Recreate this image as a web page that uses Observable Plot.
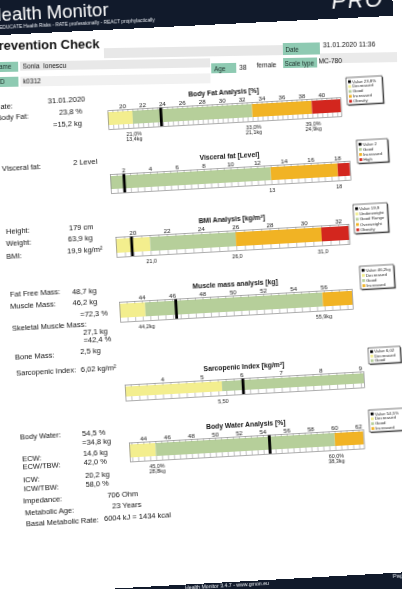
<!DOCTYPE html>
<html><head><meta charset="utf-8">
<script src="https://cdn.jsdelivr.net/npm/d3@7"></script>
<script src="https://cdn.jsdelivr.net/npm/@observablehq/plot@0.6"></script>
<style>
html,body{margin:0;padding:0;background:#fff;width:402px;height:589px;overflow:hidden;font-family:"Liberation Sans",Arial,sans-serif;}
.grp{position:absolute;left:0;top:0;width:0;height:0;transform-origin:0 0;will-change:transform;}
.abs{position:absolute;white-space:pre;line-height:1;}
</style></head><body>
<div id="band" class="grp" style="transform:rotate(-2.8deg)"></div>
<div id="info" class="grp" style="transform:rotate(-1deg)"></div>
<div id="main" class="grp" style="transform:rotate(-3.2deg)"></div>
<script>
// ---------- data ----------
const reportTitle = "Health Monitor";
const reportSubtitle = "EDUCATE Health Risks - RATE professionally - REACT prophylactically";
const logoText = "PRO";
const checkTitle = "Prevention Check";
const headerLabels = ["Date", "Name", "Age", "Scale type", "ID"];
const headerValues = ["31.01.2020 11:36", "Sonia  Ionescu", "38", "MC-780", "k0312"];
const genderText = "female";
const footerText = "Health Monitor 3.4.7 - www.gmon.eu";
const pageText = "Page 1/1";

const leftLabels = ["Date:", "Body Fat:", "Visceral fat:", "Height:", "Weight:", "BMI:",
  "Fat Free Mass:", "Muscle Mass:", "Skeletal Muscle Mass:", "Bone Mass:", "Sarcopenic Index:",
  "Body Water:", "ECW:", "ECW/TBW:", "ICW:", "ICW/TBW:", "Impedance:", "Metabolic Age:", "Basal Metabolic Rate:"];
const leftValues = ["31.01.2020", "23,8 %", "=15,2 kg", "2 Level", "179 cm", "63,9 kg", "19,9 kg/m²",
  "48,7 kg", "46,2 kg", "=72,3 %", "27,1 kg", "=42,4 %", "2,5 kg", "6,02 kg/m²",
  "54,5 %", "=34,8 kg", "14,6 kg", "42,0 %", "20,2 kg", "58,0 %", "706 Ohm", "23 Years", "6004 kJ = 1434 kcal"];

const chartTitles = ["Body Fat Analysis [%]", "Visceral fat [Level]", "BMI Analysis [kg/m²]",
  "Muscle mass analysis [kg]", "Sarcopenic Index [kg/m²]", "Body Water Analysis [%]"];

const bodyFatTicks = [20, 22, 24, 26, 28, 30, 32, 34, 36, 38, 40];
const bodyFatBounds = [18.5, 21, 33, 39, 41.9];
const bodyFatCats = ["Decreased", "Good", "Increased", "Obesity"];
const bodyFatValue = 23.8;
const bodyFatMarks = [21, 33, 39];
const bodyFatMarkLabels = ["21,0%\n13,4kg", "33,0%\n21,1kg", "39,0%\n24,9kg"];
const bodyFatLegend = "Value 23,8%";

const visceralTicks = [2, 4, 6, 8, 10, 12, 14, 16, 18];
const visceralBounds = [1, 13, 18, 18.9];
const visceralCats = ["Good", "Increased", "High"];
const visceralValue = 2;
const visceralMarks = [13, 18];
const visceralMarkLabels = ["13", "18"];
const visceralLegend = "Value 2";

const bmiTicks = [20, 22, 24, 26, 28, 30, 32];
const bmiBounds = [19, 21, 26, 31, 32.6];
const bmiCats = ["Underweight", "Good Range", "Overweight", "Obesity"];
const bmiValue = 19.9;
const bmiMarks = [21, 26, 31];
const bmiMarkLabels = ["21,0", "26,0", "31,0"];
const bmiLegend = "Value 19,9";

const muscleTicks = [44, 46, 48, 50, 52, 54, 56];
const muscleBounds = [42.5, 44.2, 55.9, 57.85];
const muscleCats = ["Decreased", "Good", "Increased"];
const muscleValue = 46.2;
const muscleMarks = [44.2, 55.9];
const muscleMarkLabels = ["44,2kg", "55,9kg"];
const muscleLegend = "Value 46,2kg";

const sarcoTicks = [4, 5, 6, 7, 8, 9];
const sarcoBounds = [3.05, 5.5, 9.08];
const sarcoCats = ["Decreased", "Good"];
const sarcoValue = 6.02;
const sarcoMarks = [5.5];
const sarcoMarkLabels = ["5,50"];
const sarcoLegend = "Value 6,02";

const waterTicks = [44, 46, 48, 50, 52, 54, 56, 58, 60, 62];
const waterBounds = [42.8, 45, 60, 62.4];
const waterCats = ["Decreased", "Good", "Increased"];
const waterValue = 54.5;
const waterMarks = [45, 60];
const waterMarkLabels = ["45,0%\n28,8kg", "60,0%\n38,3kg"];
const waterLegend = "Value 54,5%";

// ---------- styles / layout ----------
const FONT = "Liberation Sans, Arial, sans-serif";
const YEL = "#f3ee8e", GRN = "#b6cf9a", ORA = "#f1b324", RED = "#d3261e";
const catColor = {Decreased: YEL, Underweight: YEL, Good: GRN, "Good Range": GRN,
  Increased: ORA, Overweight: ORA, Obesity: RED, High: RED};
const TEAL = "#8ecab2", NAVY = "#111a2b";

const bandG = document.getElementById("band");
const infoG = document.getElementById("info");
const mainG = document.getElementById("main");

function box(g, x, y, w, h, bg) {
  const d = document.createElement("div");
  d.className = "abs";
  Object.assign(d.style, {left: x + "px", top: y + "px", width: w + "px", height: h + "px", background: bg});
  g.appendChild(d);
  return d;
}
// y = baseline
function put(g, text, x, y, fs, opt = {}) {
  const s = document.createElement("span");
  s.className = "abs";
  s.textContent = text;
  Object.assign(s.style, {left: x + "px", top: (y - 0.8465 * fs) + "px", fontSize: fs + "px", color: "#111"}, opt);
  g.appendChild(s);
  return s;
}

// ---------- header band ----------
box(bandG, -20, -40, 412, 75, NAVY);
put(bandG, reportTitle, -12.5, 22, 18.5, {color: "#fff"});
put(bandG, reportSubtitle, -2, 30.5, 4.9, {color: "#e8ecf2"});
put(bandG, logoText, 331, 26, 22, {color: "#fff", fontStyle: "italic", fontWeight: "300", letterSpacing: "1.5px"});

// ---------- info rows ----------
put(infoG, checkTitle, -11, 49.8, 13, {fontWeight: "bold"});
box(infoG, 103, 49.5, 179, 10.5, "#e8e8e8");
box(infoG, 282, 48, 37, 11.5, TEAL);
put(infoG, headerLabels[0], 284.5, 57, 6.3, {color: "#1d2f2a"});
put(infoG, headerValues[0], 322, 54.2, 6.8);
box(infoG, 319, 59, 77, 9.5, "#eaeaea");
box(infoG, -9, 61.5, 26, 10, TEAL);
put(infoG, headerLabels[1], -6.5, 69.2, 6.3, {color: "#1d2f2a"});
box(infoG, 19, 61.5, 190, 9.5, "#e8e8e8");
put(infoG, headerValues[1], 21.5, 69.8, 6.6);
box(infoG, 210, 67, 25, 10, TEAL);
put(infoG, headerLabels[2], 213, 75, 6.3, {color: "#1d2f2a"});
put(infoG, headerValues[2], 238, 74.2, 6.6);
put(infoG, genderText, 255.5, 72.9, 6.6);
box(infoG, 282, 63.2, 34, 10, TEAL);
put(infoG, headerLabels[3], 283.5, 71.2, 6.3, {color: "#1d2f2a"});
put(infoG, headerValues[3], 317.5, 69.5, 6.6);
box(infoG, -9, 76.8, 26, 10, TEAL);
put(infoG, headerLabels[4], -3, 84.6, 6.3, {color: "#1d2f2a"});
box(infoG, 19, 77, 190, 9.5, "#f1f1f1");
put(infoG, headerValues[4], 21.5, 84.4, 6.6);

// ---------- left column (centre y) ----------
const LFS = 7.5;
const labelPos = [[-11,106.5],[-10,117.8],[-7.4,168.8],[-7,232],[-7.5,243.3],[-8,256.6],[-6.5,295],[-7,306.7],
  [-6.3,328.5],[-5,357.6],[-4.8,373.6],[-4.4,437.7],[-3.6,459.8],[-3.6,467.8],[-3.8,480.5],[-3.8,489.5],
  [-5,501.3],[-3.7,514],[-3.3,524.6]];
const valuePos = [[42,103.5],[52.7,116],[46,127.8],[63.9,166.8],[56,232],[54.6,242.8],[53,255],[55.7,295.2],
  [55.5,306.2],[62.5,318.3],[64.4,336.8],[64.4,344.8],[60.4,355.6],[60,373.6],[57.8,437.2],[57.3,446.2],
  [57.7,458],[57.7,466.6],[58.4,480],[58.4,489],[79.4,500.2],[83.8,511.4],[75,523.3]];
leftLabels.forEach((t, i) => put(mainG, t, labelPos[i][0], labelPos[i][1] + 0.358 * LFS, LFS));
leftValues.forEach((t, i) => put(mainG, t, valuePos[i][0], valuePos[i][1] + 0.358 * LFS, LFS));

// ---------- charts ----------
const charts = [
  {title: chartTitles[0], ticks: bodyFatTicks, bounds: bodyFatBounds, cats: bodyFatCats, value: bodyFatValue, marks: bodyFatMarks, markLabels: bodyFatMarkLabels, legend: bodyFatLegend},
  {title: chartTitles[1], ticks: visceralTicks, bounds: visceralBounds, cats: visceralCats, value: visceralValue, marks: visceralMarks, markLabels: visceralMarkLabels, legend: visceralLegend},
  {title: chartTitles[2], ticks: bmiTicks, bounds: bmiBounds, cats: bmiCats, value: bmiValue, marks: bmiMarks, markLabels: bmiMarkLabels, legend: bmiLegend},
  {title: chartTitles[3], ticks: muscleTicks, bounds: muscleBounds, cats: muscleCats, value: muscleValue, marks: muscleMarks, markLabels: muscleMarkLabels, legend: muscleLegend},
  {title: chartTitles[4], ticks: sarcoTicks, bounds: sarcoBounds, cats: sarcoCats, value: sarcoValue, marks: sarcoMarks, markLabels: sarcoMarkLabels, legend: sarcoLegend},
  {title: chartTitles[5], ticks: waterTicks, bounds: waterBounds, cats: waterCats, value: waterValue, marks: waterMarks, markLabels: waterMarkLabels, legend: waterLegend}
];
const layouts = [
  {left: 100.7, right: 334, top: 116, fh: 19, minor: 0.5, lg: [341, 97, 36, 27]},
  {left: 100.2, right: 340, top: 179.5, fh: 19, minor: 0.5, lg: [347.6, 159.7, 31, 23]},
  {left: 101.6, right: 335, top: 243, fh: 20, minor: 0.5, lg: [341, 224.4, 34, 29]},
  {left: 102, right: 335, top: 307.6, fh: 20, minor: 0.5, lg: [343.6, 285.6, 34, 23]},
  {left: 103, right: 342, top: 390.5, fh: 16, minor: 0.2, lg: [348, 368, 32, 16]},
  {left: 104, right: 338.5, top: 449, fh: 19, minor: 0.5, lg: [344.5, 429.8, 38, 22]}
];

function drawChart(d, L) {
  const ml = 16, mr = 16, mt = 20, mb = 20;
  const dom = [d.bounds[0], d.bounds[d.bounds.length - 1]];
  const segs = d.cats.map((c, i) => ({from: d.bounds[i], to: d.bounds[i + 1], fill: catColor[c]}));
  const k0 = Math.ceil(dom[0] / L.minor + 1e-6), k1 = Math.floor(dom[1] / L.minor - 1e-6);
  const minor = d3.range(k0, k1 + 1).map(k => +(k * L.minor).toFixed(3));
  const annots = d.marks.map((v, i) => ({v, label: d.markLabels[i]}));
  const W = ml + (L.right - L.left) + mr, H = mt + L.fh + mb;
  const svg = Plot.plot({
    width: W, height: H,
    marginLeft: ml, marginRight: mr, marginTop: mt, marginBottom: mb,
    x: {domain: dom, label: null},
    color: {type: "identity"},
    style: {fontFamily: FONT, background: "transparent", overflow: "visible", maxWidth: "none"},
    marks: [
      Plot.frame({fill: "#fff", stroke: "none"}),
      Plot.barX(segs, {x1: "from", x2: "to", fill: "fill", insetTop: 2, insetBottom: 4}),
      Plot.tickX(minor, {x: v => v, stroke: "#888", strokeWidth: 0.5, insetBottom: L.fh - 2.5}),
      Plot.tickX(minor, {x: v => v, stroke: "#888", strokeWidth: 0.5, insetTop: L.fh - 4}),
      Plot.ruleX([d.value], {stroke: "#000", strokeWidth: 2.8}),
      Plot.frame({stroke: "#8a8a8a", strokeWidth: 0.7}),
      Plot.axisX({ticks: d.ticks, anchor: "top", tickSize: 0, tickPadding: 2, fontSize: 6.2, tickFormat: v => String(v), label: null, color: "#222"}),
      Plot.text([d.title], {text: t => t, frameAnchor: "top", dy: -14, fontSize: 6.8, fontWeight: "bold", fill: "#111"}),
      Plot.text(annots, {x: "v", text: "label", frameAnchor: "bottom", lineAnchor: "top", dy: 3, fontSize: 5.4, lineHeight: 1.05, fill: "#222"})
    ]
  });
  svg.style.position = "absolute";
  svg.style.maxWidth = "none";
  svg.style.width = W + "px";
  svg.style.height = H + "px";
  svg.style.left = (L.left - ml) + "px";
  svg.style.top = (L.top - mt) + "px";
  mainG.appendChild(svg);

  // legend box
  const [lx, ly, lw, lh] = L.lg;
  const entries = [d.legend, ...d.cats];
  const colors = ["#000", ...d.cats.map(c => catColor[c])];
  const lg = d3.select(mainG).append("svg")
    .attr("width", lw + 3).attr("height", lh + 3)
    .style("position", "absolute").style("left", lx + "px").style("top", ly + "px").style("overflow", "visible");
  lg.append("rect").attr("x", 1.2).attr("y", 1.2).attr("width", lw).attr("height", lh).attr("fill", "#555");
  lg.append("rect").attr("width", lw).attr("height", lh).attr("fill", "#fff").attr("stroke", "#222").attr("stroke-width", 0.6);
  const step = (lh - 2.5) / entries.length;
  entries.forEach((e, i) => {
    const yy = 1.6 + i * step;
    lg.append("rect").attr("x", 2).attr("y", yy + step / 2 - 1.4).attr("width", 2.8).attr("height", 2.8).attr("fill", colors[i]);
    lg.append("text").attr("x", 6).attr("y", yy + step / 2 + 1.5).attr("font-size", 4.3)
      .attr("font-family", FONT).attr("fill", "#222").text(e);
  });
}
charts.forEach((d, i) => drawChart(d, layouts[i]));

// ---------- footer ----------
box(mainG, -20, 593.5, 440, 40, NAVY);
put(mainG, footerText, 152, 599.3, 5.2, {color: "#e8ecf2"});
put(mainG, pageText, 360, 599.3, 5.6, {color: "#e8ecf2"});
</script>
</body></html>
